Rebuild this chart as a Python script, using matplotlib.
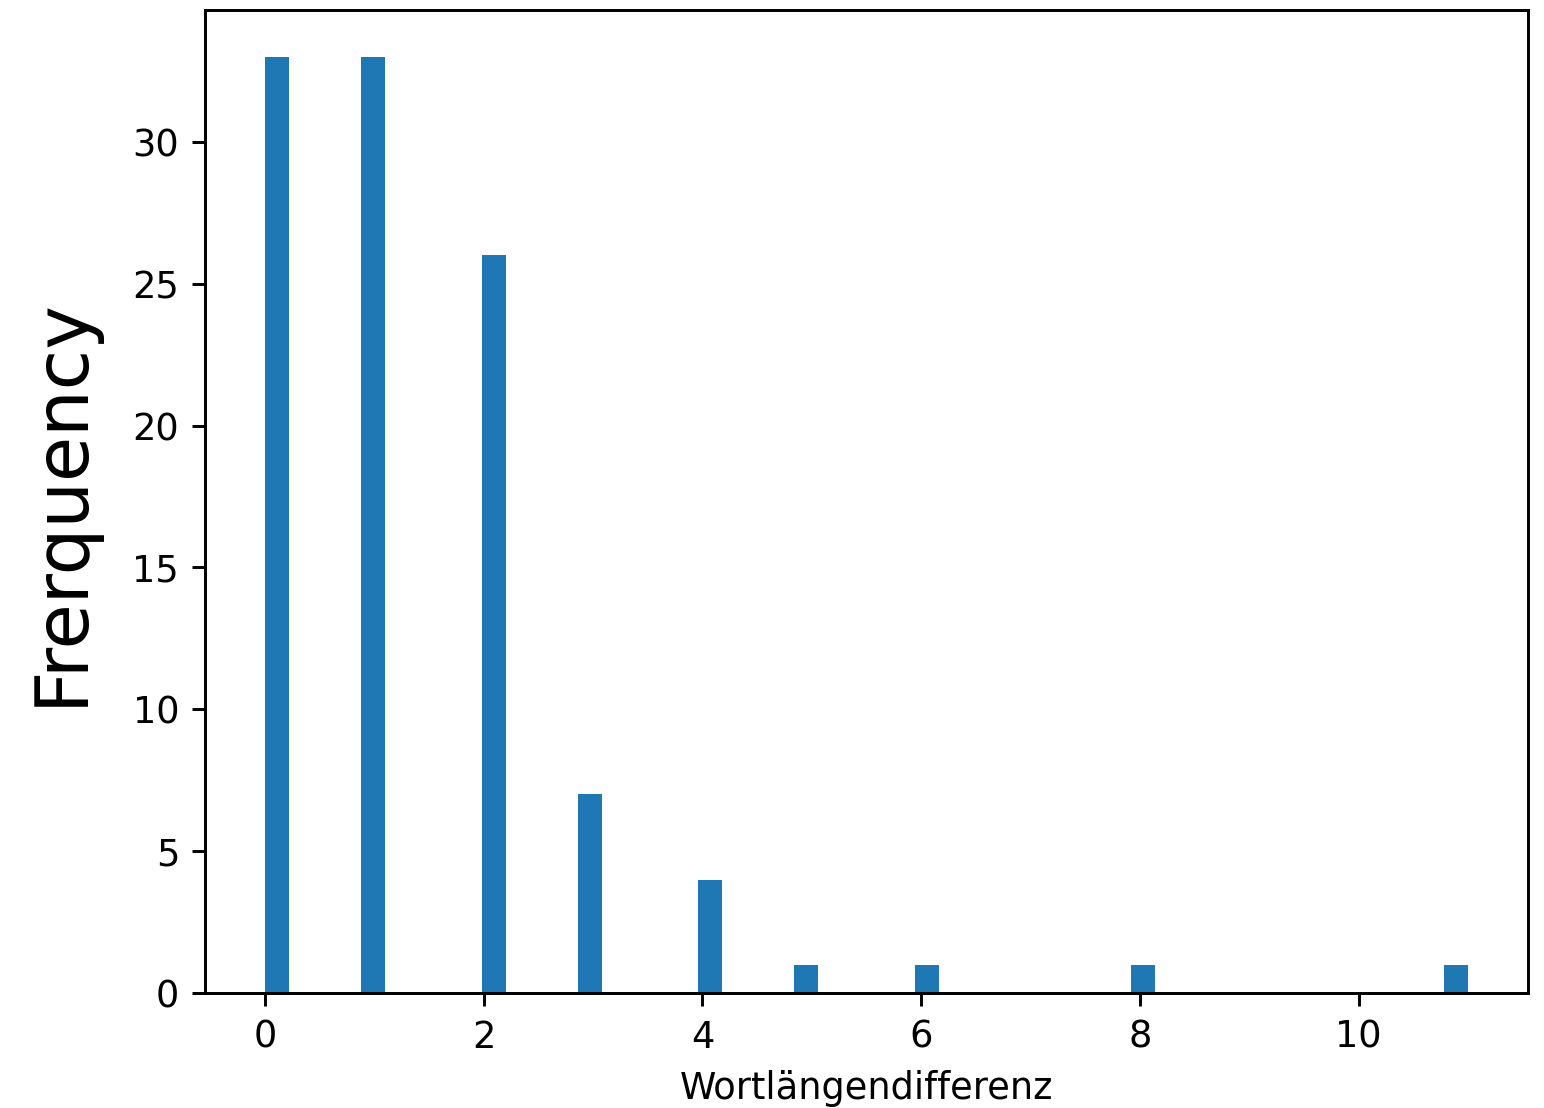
import numpy as np
import matplotlib
matplotlib.use('Agg')
import matplotlib.pyplot as plt

# Wortlängendifferenzen und wie oft sie vorkommen
differenz = [0, 1, 2, 3, 4, 5, 6, 8, 11]
anzahl = [33, 33, 26, 7, 4, 1, 1, 1, 1]

werte = np.repeat(differenz, anzahl)

fig = plt.figure(figsize=(1544 / 265, 1108 / 265), dpi=265)
ax = fig.add_axes([205 / 1544, 1 - 993 / 1108, (1528 - 205) / 1544, (993 - 10) / 1108])
ax.hist(werte, bins=50)
ax.set_xlabel('Wortlängendifferenz')
ax.set_ylabel('Frerquency', fontsize=20, labelpad=9.5)
fig.savefig('out.png', dpi=265)
